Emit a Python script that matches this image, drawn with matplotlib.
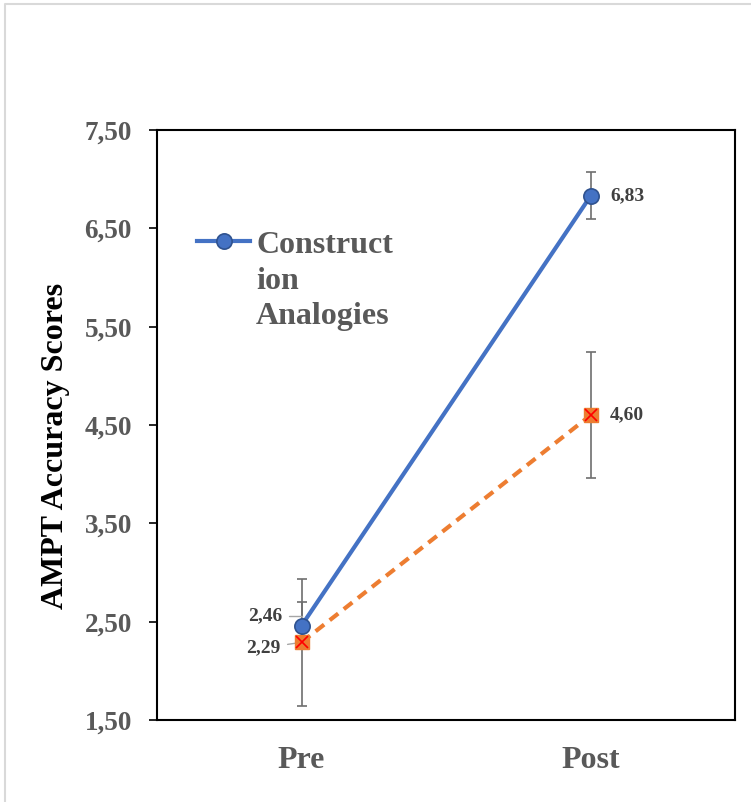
import numpy as np
import matplotlib
matplotlib.use("Agg")
import matplotlib.pyplot as plt
from matplotlib.ticker import FuncFormatter
from matplotlib.lines import Line2D

# data
phases = ["Pre", "Post"]
analogies_mean = [2.46, 6.83]
analogies_err = [0.24, 0.24]
other_mean = [2.29, 4.60]
other_err = [0.645, 0.64]
y_ticks = [1.5, 2.5, 3.5, 4.5, 5.5, 6.5, 7.5]
legend_label = "Construct"
legend_wrap = "ion\nAnalogies"

plt.rcParams["font.family"] = ["Liberation Serif", "DejaVu Serif"]
plt.rcParams["font.weight"] = "bold"

blue = "#4472C4"
orange = "#ED7D31"
grey_txt = "#595959"
err_col = "#6E6E6E"

fig = plt.figure(figsize=(7.51, 8.02), dpi=100)
# the screenshot only shows the chart-area frame on the left and top
fig.lines.append(Line2D([0.0065, 0.0065, 1.0], [0.0, 0.995, 0.995],
                        transform=fig.transFigure, color="#D9D9D9", lw=1.5))
ax = fig.add_axes([0.209, 0.1022, 0.770, 0.7357])

x = np.arange(len(phases))

ax.errorbar(x, other_mean, yerr=other_err, fmt="none", ecolor=err_col,
            elinewidth=1.2, capsize=3.5, capthick=1.2, zorder=2)
ax.errorbar(x, analogies_mean, yerr=analogies_err, fmt="none", ecolor=err_col,
            elinewidth=1.2, capsize=3.5, capthick=1.2, zorder=2)

ax.plot(x, other_mean, color=orange, lw=3, linestyle=(0, (2.6, 1.7)),
        solid_capstyle="round", zorder=3)
ax.plot(x, other_mean, linestyle="none", marker="s", markersize=10,
        markerfacecolor=orange, markeredgecolor=orange, zorder=4)
ax.plot(x, other_mean, linestyle="none", marker="x", markersize=9,
        markeredgecolor="#FF0000", markeredgewidth=1.2, zorder=5)

line_b, = ax.plot(x, analogies_mean, color=blue, lw=3, marker="o", markersize=11,
                  markerfacecolor=blue, markeredgecolor="#2F528F",
                  markeredgewidth=1.2, zorder=6)

# data labels
lab_kw = dict(fontsize=14, fontweight="bold", color="#404040",
              textcoords="offset points", va="center")
ax.annotate(f"{analogies_mean[0]:.2f}".replace(".", ","), xy=(x[0], analogies_mean[0]),
            xytext=(-14, 7), ha="right",
            arrowprops=dict(arrowstyle="-", color="#A6A6A6", lw=1,
                            connectionstyle="angle,angleA=0,angleB=90,rad=0",
                            shrinkA=3, shrinkB=0), **lab_kw)
ax.annotate(f"{other_mean[0]:.2f}".replace(".", ","), xy=(x[0], other_mean[0]),
            xytext=(-15, -4), ha="right",
            arrowprops=dict(arrowstyle="-", color="#A6A6A6", lw=1,
                            shrinkA=3, shrinkB=0), **lab_kw)
ax.annotate(f"{analogies_mean[1]:.2f}".replace(".", ","), xy=(x[1], analogies_mean[1]),
            xytext=(14, 0), ha="left", **lab_kw)
ax.annotate(f"{other_mean[1]:.2f}".replace(".", ","), xy=(x[1], other_mean[1]),
            xytext=(14, 0), ha="left", **lab_kw)

ax.set_xlim(-0.5, 1.5)
ax.set_ylim(y_ticks[0], y_ticks[-1])
ax.set_yticks(y_ticks)
ax.yaxis.set_major_formatter(FuncFormatter(lambda v, p: f"{v:.2f}".replace(".", ",")))
ax.set_xticks(x)
ax.set_xticklabels(phases)

for s in ax.spines.values():
    s.set_linewidth(1.5)
    s.set_color("black")
ax.tick_params(axis="y", direction="out", length=6, width=1.2, pad=12,
               labelsize=19.5, labelcolor=grey_txt)
ax.tick_params(axis="x", length=0, pad=19, labelsize=23, labelcolor=grey_txt)

ax.set_ylabel("AMPT Accuracy Scores", fontsize=23, fontweight="bold", color="black")
ax.yaxis.set_label_coords(-0.150, 0.464)

leg = ax.legend([line_b], [legend_label], loc="upper left",
                bbox_to_anchor=(0.069, 0.83), frameon=False, borderpad=0,
                borderaxespad=0, handlelength=1.67, handletextpad=0.2,
                prop=dict(family="Liberation Serif", weight="bold", size=23))
leg.get_texts()[0].set_color(grey_txt)
# Excel wraps the long legend entry; rest of the label goes under the first line
ax.text(0.171, 0.768, legend_wrap, transform=ax.transAxes, va="top", ha="left",
        fontsize=23, fontweight="bold", color=grey_txt, linespacing=1.3)

fig.savefig("out.png", dpi=100)
